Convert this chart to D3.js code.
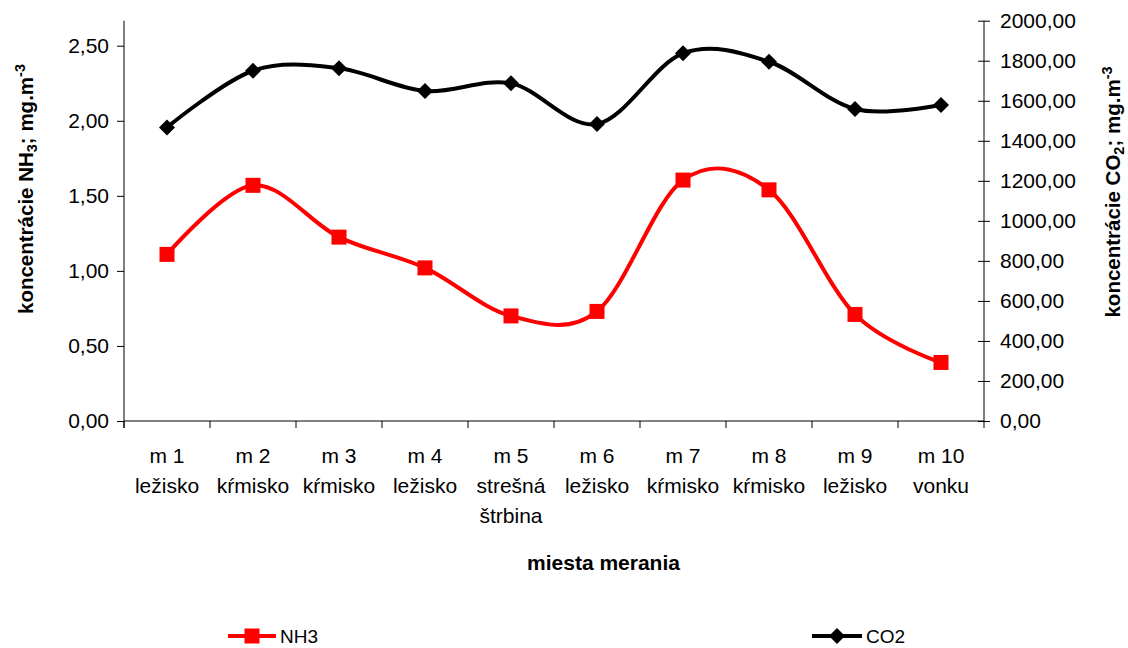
<!DOCTYPE html>
<html><head><meta charset="utf-8">
<script src="https://cdn.jsdelivr.net/npm/d3@7"></script>
<style>body{margin:0;background:#fff}svg{display:block}text{font-family:"Liberation Sans",Arial,sans-serif}</style>
</head><body><svg id="c" width="1128" height="648"></svg>
<script>
const categories = [["m 1","ležisko"],["m 2","kŕmisko"],["m 3","kŕmisko"],["m 4","ležisko"],["m 5","strešná","štrbina"],["m 6","ležisko"],["m 7","kŕmisko"],["m 8","kŕmisko"],["m 9","ležisko"],["m 10","vonku"]];
const nh3 = [1.11,1.57,1.225,1.02,0.70,0.73,1.605,1.54,0.71,0.39];
const co2 = [1467,1750,1762,1649,1687,1484,1837,1795,1559,1579];
const leftTicks = [0,0.5,1,1.5,2,2.5];
const rightTicks = [0,200,400,600,800,1000,1200,1400,1600,1800,2000];

const svg = d3.select("#c");
const X0=124, X1=984, YT=20.7, YB=421;
const x = d3.scaleBand().domain(d3.range(categories.length)).range([X0,X1]);
const yL = d3.scaleLinear().domain([0,2.6667]).range([YB,YT]);
const yR = d3.scaleLinear().domain([0,2000]).range([YB,YT]);
const fmt = v => d3.format(".2f")(v).replace(".",",");

// left axis
const gL = svg.append("g").attr("transform",`translate(${X0},0)`)
  .call(d3.axisLeft(yL).tickValues(leftTicks).tickFormat(fmt).tickSizeInner(7).tickSizeOuter(0).tickPadding(8));
gL.select(".domain").attr("d",`M0,${YT}V${YB+7}`);
// right axis
const gR = svg.append("g").attr("transform",`translate(${X1},0)`)
  .call(d3.axisRight(yR).tickValues(rightTicks).tickFormat(fmt).tickSizeInner(6).tickSizeOuter(0).tickPadding(10));
gR.selectAll(".tick line").attr("x1",-6).attr("x2",6);
gR.select(".domain").attr("d",`M0,${YT}V${YB}`);
// bottom axis
const gB = svg.append("g").attr("transform",`translate(0,${YB})`);
gB.append("line").attr("x1",X0).attr("x2",X1).attr("stroke","#000");
const bounds = d3.range(categories.length+1).map(i => i<categories.length ? x(i) : X1);
gB.selectAll(".bt").data(bounds).join("line").attr("x1",d=>d).attr("x2",d=>d).attr("y1",0).attr("y2",7).attr("stroke","#000");
[gL,gR].forEach(g=>{g.selectAll("text").attr("font-size",21).attr("fill","#000").style("font-family",'"Liberation Sans",Arial,sans-serif');g.selectAll("line,path").attr("stroke","#000");});

// category labels
categories.forEach((lines,i)=>{
  const t = svg.append("text").attr("x",x(i)+x.bandwidth()/2).attr("y",463).attr("text-anchor","middle").attr("font-size",21);
  lines.forEach((l,j)=>t.append("tspan").attr("x",x(i)+x.bandwidth()/2).attr("dy",j?30:0).text(l));
});

// axis titles
svg.append("text").attr("x",603.5).attr("y",570).attr("text-anchor","middle").attr("font-size",21).attr("font-weight","bold").text("miesta merania");
function yTitle(cx,cy,sub){
  const t = svg.append("text").attr("transform",`translate(${cx},${cy}) rotate(-90)`).attr("text-anchor","middle").attr("font-size",20.5).attr("font-weight","bold");
  t.append("tspan").text("koncentrácie "+sub[0]);
  t.append("tspan").attr("font-size",14.5).attr("baseline-shift","-25%").text(sub[1]);
  t.append("tspan").text("; mg.m");
  t.append("tspan").attr("font-size",14.5).attr("baseline-shift","55%").text("-3");
}
yTitle(33,189,["NH","3"]);
yTitle(1120,192,["CO","2"]);

// lines
const cx = i => x(i)+x.bandwidth()/2;
const curve = d3.curveCatmullRom.alpha(0);
svg.append("path").datum(co2).attr("fill","none").attr("stroke","#000").attr("stroke-width",4)
  .attr("d",d3.line().x((d,i)=>cx(i)).y(d=>yR(d)).curve(curve));
svg.append("path").datum(nh3).attr("fill","none").attr("stroke","#ff0000").attr("stroke-width",4)
  .attr("d",d3.line().x((d,i)=>cx(i)).y(d=>yL(d)).curve(curve));
const diamond = s => `M0,${-s}L${s},0L0,${s}L${-s},0Z`;
svg.selectAll(".dm").data(co2).join("path").attr("transform",(d,i)=>`translate(${cx(i)},${yR(d)})`).attr("d",diamond(8)).attr("fill","#000");
svg.selectAll(".sq").data(nh3).join("rect").attr("x",(d,i)=>cx(i)-7.5).attr("y",d=>yL(d)-7.5).attr("width",15).attr("height",15).attr("fill","#ff0000");

// legend
const LY=636;
svg.append("line").attr("x1",228).attr("x2",276).attr("y1",LY).attr("y2",LY).attr("stroke","#ff0000").attr("stroke-width",4);
svg.append("rect").attr("x",252-7.5).attr("y",LY-7.5).attr("width",15).attr("height",15).attr("fill","#ff0000");
svg.append("text").attr("x",280).attr("y",LY+7).attr("font-size",19).text("NH3");
svg.append("line").attr("x1",812).attr("x2",862).attr("y1",LY).attr("y2",LY).attr("stroke","#000").attr("stroke-width",4);
svg.append("path").attr("transform",`translate(837,${LY})`).attr("d",diamond(8)).attr("fill","#000");
svg.append("text").attr("x",866).attr("y",LY+7).attr("font-size",19).text("CO2");
</script></body></html>
